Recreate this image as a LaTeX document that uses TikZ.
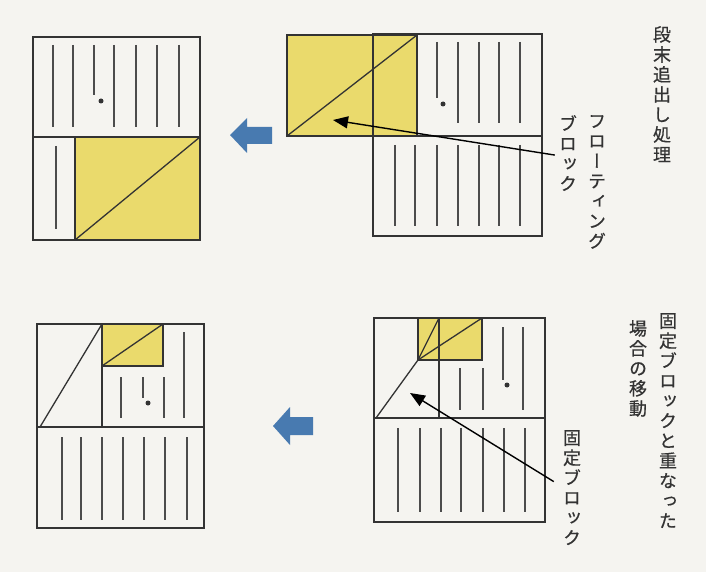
\documentclass[tikz,border=0pt]{standalone}
\usepackage{fontspec}
\newfontfamily\tatefont[RawFeature={+vert},FakeBold=0.6]{Noto Sans CJK JP}
\usepackage{tikz}
\usetikzlibrary{arrows.meta,positioning,calc}
\definecolor{paper}{RGB}{245,244,240}
\definecolor{blockyellow}{RGB}{234,218,108}
\definecolor{moveblue}{RGB}{72,122,176}

\begin{document}
\begin{tikzpicture}[x=1pt, y=-1pt,
    frame/.style={draw=black!80, line width=1.3pt},
    floatblk/.style={fill=blockyellow, draw=black!80, line width=1.3pt},
    textline/.style={draw=black!70, line width=1.8pt},
    pointer/.style={-{Triangle[length=15pt,width=12pt]}, line width=1.4pt},
    tate/.style={font=\tatefont\fontsize{18}{20}\selectfont, text=black!80, align=center, inner sep=0pt, anchor=north},
    moveto/.style={fill=moveblue}
]
    \fill[paper] (0,0) rectangle (706,572);
    \useasboundingbox (0,0) rectangle (706,572);

    % top left: after the move
    \draw[floatblk] (75,137) rectangle (200,240);
    \draw[frame] (33,37) rectangle (200,240);
    \draw[frame] (33,137) -- (200,137);
    \draw[frame] (75,240) -- (200,137);
    \foreach \x in {53,73,114,136,157,179} \draw[textline] (\x,45) -- (\x,127);
    \draw[textline] (94,45) -- (94,95);
    \fill[black!80] (101,101) circle (2.5pt);
    \draw[textline] (56,146) -- (56,229);

    % top right: floating block at the column end
    \draw[floatblk] (287,35) rectangle (417,136);
    \draw[frame] (373,34) rectangle (542,236);
    \draw[frame] (417,136) -- (542,136);
    \draw[frame] (287,136) -- (417,35);
    \foreach \x in {458,479,499,520} \draw[textline] (\x,42) -- (\x,123);
    \draw[textline] (437,42) -- (437,98);
    \fill[black!80] (443,104) circle (2.5pt);
    \foreach \x in {395,415,437,458,479,499,520} \draw[textline] (\x,145) -- (\x,226);
    \coordinate (fltip) at (333,120);

    % bottom left: after the move
    \draw[floatblk] (102,324) rectangle (163,366);
    \draw[frame] (37,324) rectangle (204,528);
    \draw[frame] (37,427) -- (204,427);
    \draw[frame] (102,324) -- (102,427);
    \draw[frame] (40,427) -- (102,324);
    \draw[frame] (102,366) -- (163,324);
    \draw[textline] (121,377) -- (121,418);
    \draw[textline] (143,377) -- (143,398);
    \fill[black!80] (148,403) circle (2.5pt);
    \draw[textline] (164,377) -- (164,418);
    \draw[textline] (184,332) -- (184,418);
    \foreach \x in {62,81,102,123,144,165,187} \draw[textline] (\x,437) -- (\x,520);

    % bottom right: overlapping the fixed block
    \draw[floatblk] (418,318) rectangle (482,360);
    \draw[frame] (374,318) rectangle (545,522);
    \draw[frame] (374,418) -- (545,418);
    \draw[frame] (439,318) -- (439,418);
    \draw[frame] (376,418) -- (418,360) -- (439,318);
    \draw[frame] (418,360) -- (482,318);
    \draw[textline] (460,368) -- (460,410);
    \draw[textline] (483,368) -- (483,410);
    \draw[textline] (503,327) -- (503,380);
    \fill[black!80] (507,385) circle (2.5pt);
    \draw[textline] (523,327) -- (523,410);
    \foreach \x in {398,420,441,461,483,504,525} \draw[textline] (\x,428) -- (\x,512);
    \coordinate (fixtip) at (410,393);

    % move arrows
    \fill[moveto] (230,135) -- (247,118) -- (247,127) -- (272,127) -- (272,144) -- (247,144) -- (247,153) -- cycle;
    \fill[moveto] (273,426) -- (290,407) -- (290,417) -- (313,417) -- (313,435) -- (290,435) -- (290,445) -- cycle;

    % labels
    \node[tate] (title1) at (662,26) {段\\末\\追\\出\\し\\処\\理};
    \node[tate] (flt) at (597,115) {フ\\ロ\\ー\\テ\\ィ\\ン\\グ};
    \node[tate] (fltblk) at (568,115) {ブ\\ロ\\ッ\\ク};
    \node[tate] (title2a) at (668,313) {固\\定\\ブ\\ロ\\ッ\\ク\\と\\重\\な\\っ\\た};
    \node[tate] (title2b) at (638,320) {場\\合\\の\\移\\動};
    \node[tate] (fix) at (572,430) {固\\定\\ブ\\ロ\\ッ\\ク};

    \draw[pointer] (fltblk.west) ++(-4,2) -- (fltip);
    \draw[pointer] (fix.west) ++(-9,-6) -- (fixtip);
\end{tikzpicture}
\end{document}
